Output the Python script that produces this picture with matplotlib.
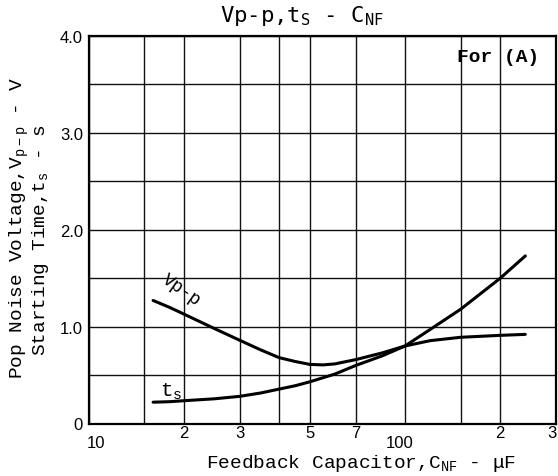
import matplotlib
matplotlib.use("Agg")
import matplotlib.pyplot as plt
from matplotlib.transforms import ScaledTranslation

# ---- data ----
x_vpp = [16, 18, 20, 25, 30, 35, 40, 45, 50, 55, 60, 70, 85, 100, 120, 150, 200, 240]
vpp = [1.27, 1.20, 1.13, 0.98, 0.86, 0.76, 0.68, 0.64, 0.61, 0.605, 0.615, 0.66, 0.73, 0.80, 0.855, 0.89, 0.91, 0.92]

x_ts = [16, 18, 20, 25, 30, 35, 40, 45, 50, 60, 70, 85, 100, 120, 150, 200, 240]
ts = [0.22, 0.225, 0.235, 0.255, 0.28, 0.315, 0.355, 0.39, 0.43, 0.51, 0.60, 0.70, 0.80, 0.97, 1.18, 1.50, 1.73]

x_grid = [10, 15, 20, 30, 40, 50, 70, 100, 150, 200, 300]
x_tick_vals = [10, 20, 30, 50, 70, 100, 200, 300]
x_tick_labels = ["10", "2", "3", "5", "7", "100", "2", "3"]
y_grid = [0, 0.5, 1.0, 1.5, 2.0, 2.5, 3.0, 3.5, 4.0]
y_tick_labels = ["0", "", "1.0", "", "2.0", "", "3.0", "", "4.0"]

W, H = 558, 477
fig = plt.figure(figsize=(W / 100, H / 100), dpi=100)
L, R, T, B = 88.5, 556, 37, 424.5
ax = fig.add_axes([L / W, 1 - B / H, (R - L) / W, (B - T) / H])

ax.set_xscale("log")
ax.set_xlim(10, 300)
ax.set_ylim(0, 4.0)

ax.set_xticks(x_grid, minor=False)
ax.set_xticklabels([""] * len(x_grid))
ax.minorticks_off()
ax.set_yticks(y_grid)
ax.set_yticklabels(y_tick_labels, fontfamily="Liberation Sans", fontsize=12)
ax.tick_params(axis="both", length=0)
ax.tick_params(axis="y", pad=4)
ax.grid(True, color="#111111", linewidth=1.0)
for s in ax.spines.values():
    s.set_linewidth(1.6)
    s.set_color("black")

# x tick labels (custom, as in the datasheet)
tr = ax.get_xaxis_transform()
for v, lab in zip(x_tick_vals, x_tick_labels):
    if lab in ("10", "100"):
        y, dx = -0.048, (7 if lab == "10" else -5)
    else:
        y, dx = -0.022, (-4 if v == 300 else 0)
    ax.text(v, y, lab, transform=tr + ScaledTranslation(dx / 100, 0, fig.dpi_scale_trans),
            ha="center", va="center", fontfamily="Liberation Sans", fontsize=12)

# curves
ax.plot(x_vpp, vpp, color="black", linewidth=2.2, solid_capstyle="round")
ax.plot(x_ts, ts, color="black", linewidth=2.2, solid_capstyle="round")

mono = "Liberation Mono"
ax.text(181 / W, 1 - 290 / H, "Vp-p", transform=fig.transFigure, rotation=-35,
        ha="center", va="center", fontfamily=mono, fontsize=13)
ax.text(171 / W, 1 - 392 / H, r"t$_\mathregular{s}$", transform=fig.transFigure,
        ha="center", va="center", fontfamily=mono, fontsize=15)
fig.text(498 / W, 1 - 57 / H, "For (A)", ha="center", va="center",
         fontfamily=mono, fontsize=14, fontweight="bold")

# title
fig.text(302 / W, 1 - 16 / H, r"Vp-p,t$_\mathregular{S}$ - C$_\mathregular{NF}$",
         ha="center", va="center", fontfamily="DejaVu Sans Mono", fontsize=16)

# axis labels
fig.text(361 / W, 1 - 464 / H, r"Feedback Capacitor,C$_\mathregular{NF}$ - μF",
         ha="center", va="center", fontfamily=mono, fontsize=14)
fig.text(19 / W, 1 - 228 / H, r"Pop Noise Voltage,V$_\mathregular{p-p}$ - V",
         ha="center", va="center", rotation=90, fontfamily=mono, fontsize=14)
fig.text(41 / W, 1 - 240 / H, r"Starting Time,t$_\mathregular{s}$ - s",
         ha="center", va="center", rotation=90, fontfamily=mono, fontsize=14)

fig.savefig("out.png", dpi=100)
